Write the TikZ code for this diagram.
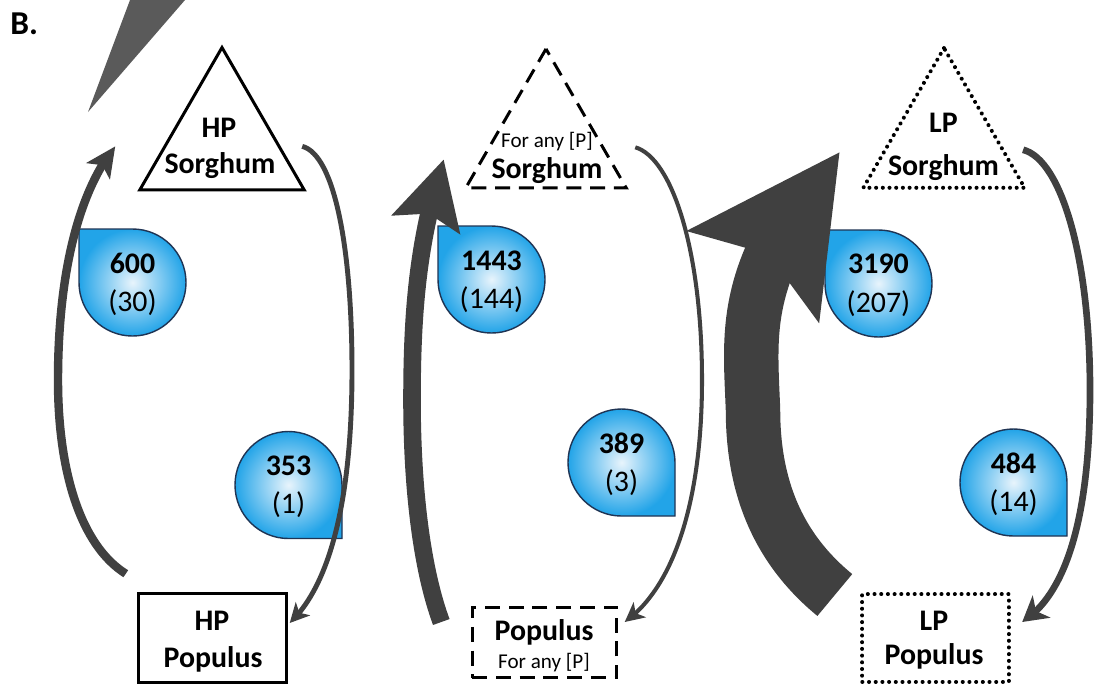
\documentclass[tikz,border=0pt]{standalone}
\usepackage{fontspec}
\setmainfont{Carlito}
\usepackage{tikz}
\usetikzlibrary{positioning, shapes.geometric, arrows.meta, bending}
\usepackage{xcolor}

\definecolor{arrowgrey}{RGB}{64,64,64}
\definecolor{wedgegrey}{RGB}{90,90,90}
\definecolor{dropblue}{RGB}{34,164,232}
\definecolor{droplight}{RGB}{232,244,252}
\definecolor{dropline}{RGB}{31,52,84}

\tikzset{
    tri/.style={regular polygon, regular polygon sides=3, draw, line width=1.7pt, inner sep=0pt},
    box/.style={rectangle, draw, line width=1.7pt, inner sep=0pt},
    dashline/.style={dash pattern=on 8.5pt off 5pt},
    dotline/.style={line cap=round, dash pattern=on 0.01pt off 3.8pt, line width=2.3pt},
    lbl/.style={anchor=base, inner sep=0pt, font=\bfseries\fontsize{17}{20}\selectfont},
    note/.style={anchor=base, inner sep=0pt, font=\fontsize{12}{14}\selectfont},
    cnt/.style={anchor=base, inner sep=0pt, font=\fontsize{17}{20}\selectfont},
    drop/.style={draw=dropline, line width=0.8pt, inner color=droplight, outer color=dropblue},
    flow/.style={draw=arrowgrey, line join=round},
}

\begin{document}
\begin{tikzpicture}[x=0.02cm, y=-0.02cm]
    \useasboundingbox (0,0) rectangle (1096,698);

    \node[anchor=base west, inner sep=0pt, font=\bfseries\fontsize{19}{22}\selectfont] (tag) at (10,34) {B.};
    \fill[wedgegrey] (88,112) -- (130,0) -- (185,0) -- cycle;

    % HP pair
    \node[tri, minimum size=108pt] (hps) at (222,142.4) {};
    \node[lbl] (hpsa) at (219,137) {HP};
    \node[lbl] (hpsb) at (220,173) {Sorghum};
    \node[box, minimum width=84.5pt, minimum height=51pt] (hpp) at (212.5,638) {};
    \node[lbl] (hppa) at (212,630) {HP};
    \node[lbl] (hppb) at (213,667) {Populus};

    \shadedraw[drop] (79,229) -- (132.5,229) arc[start angle=-90, end angle=180, radius=53.5] -- cycle;
    \node[lbl] (n600) at (132.5,273.5) {600};
    \node[cnt] (c600) at (132.5,311) {(30)};
    \shadedraw[drop] (342,538.5) -- (288.5,538.5) arc[start angle=90, end angle=360, radius=53.5] -- cycle;
    \node[lbl] (n353) at (288.5,475.5) {353};
    \node[cnt] (c353) at (288.5,513) {(1)};

    \draw[flow, line width=4.8pt, -{Stealth[length=17pt, width=16pt, inset=4pt]}]
        ([shift={(-11,-18)}]hpp.north west) .. controls (80,545) and (58,470) .. (58,380)
        .. controls (58,270) and (80,190) .. ([shift={(-22,-45)}]hps.corner 2);
    \draw[flow, line width=2.8pt, -{Stealth[length=11pt, width=11pt, inset=3pt]}]
        ([shift={(-4.5,-45)}]hps.corner 3) .. controls (335,155) and (352,250) .. (352,370)
        .. controls (352,500) and (330,585) .. ([shift={(1.5,-15)}]hpp.east);

    % any [P] pair
    \node[tri, dashline, minimum size=105.4pt] (anys) at (546,141.5) {};
    \node[note] (anysa) at (547,147) {For any [P]};
    \node[lbl] (anysb) at (547,178) {Sorghum};
    \node[box, dashline, minimum width=82.2pt, minimum height=40.3pt] (anyp) at (544.5,642.5) {};
    \node[lbl] (anypa) at (544,640) {Populus};
    \node[note] (anypb) at (544,668) {For any [P]};

    \shadedraw[drop] (438,226) -- (491.5,226) arc[start angle=-90, end angle=180, radius=53.5] -- cycle;
    \node[lbl] (n1443) at (491.5,270) {1443};
    \node[cnt] (c1443) at (491.5,308) {(144)};
    \shadedraw[drop] (675,516) -- (621.5,516) arc[start angle=90, end angle=360, radius=53.5] -- cycle;
    \node[lbl] (n389) at (621.5,453) {389};
    \node[cnt] (c389) at (621.5,491) {(3)};

    \draw[flow, line width=10pt, -{Stealth[length=38pt, width=39pt, inset=6pt]}]
        ([shift={(-29.5,-20.5)}]anyp.west) .. controls (422,570) and (412,490) .. (412,400)
        .. controls (412,310) and (418,240) .. ([shift={(-19.5,-30)}]anys.corner 2);
    \draw[flow, line width=2.3pt, -{Stealth[length=11pt, width=11pt, inset=3pt]}]
        ([shift={(6.5,-42)}]anys.corner 3) .. controls (672,158) and (702,250) .. (702,380)
        .. controls (702,510) and (670,590) .. ([shift={(6.5,-20.5)}]anyp.east);

    % LP pair
    \node[tri, dotline, minimum size=106pt] (lps) at (944,141.2) {};
    \node[lbl] (lpsa) at (943.5,132) {LP};
    \node[lbl] (lpsb) at (943.5,175) {Sorghum};
    \node[box, dotline, minimum width=83.3pt, minimum height=49.9pt] (lpp) at (935.5,638) {};
    \node[lbl] (lppa) at (934,630) {LP};
    \node[lbl] (lppb) at (934,664) {Populus};

    \shadedraw[drop] (825,230) -- (878.5,230) arc[start angle=-90, end angle=180, radius=53.5] -- cycle;
    \node[lbl] (n3190) at (878.5,273) {3190};
    \node[cnt] (c3190) at (878.5,312) {(207)};
    \shadedraw[drop] (1067,536) -- (1013.5,536) arc[start angle=90, end angle=360, radius=53.5] -- cycle;
    \node[lbl] (n484) at (1013.5,473) {484};
    \node[cnt] (c484) at (1013.5,511.5) {(14)};

    \draw[flow, line width=31pt, -{Stealth[length=85pt, width=88pt, inset=14pt]}]
        ([shift={(-25.5,-43)}]lpp.west) .. controls (780,550) and (753,490) .. (753,410)
        .. controls (750,330) and (740,270) .. ([shift={(-20,-38)}]lps.corner 2);
    \draw[flow, line width=3.8pt, -{Stealth[length=14pt, width=16pt, inset=4pt]}]
        ([shift={(-5,-40)}]lps.corner 3) .. controls (1062,160) and (1090,260) .. (1090,390)
        .. controls (1090,520) and (1065,595) .. ([shift={(11.5,-16)}]lpp.east);
\end{tikzpicture}
\end{document}
